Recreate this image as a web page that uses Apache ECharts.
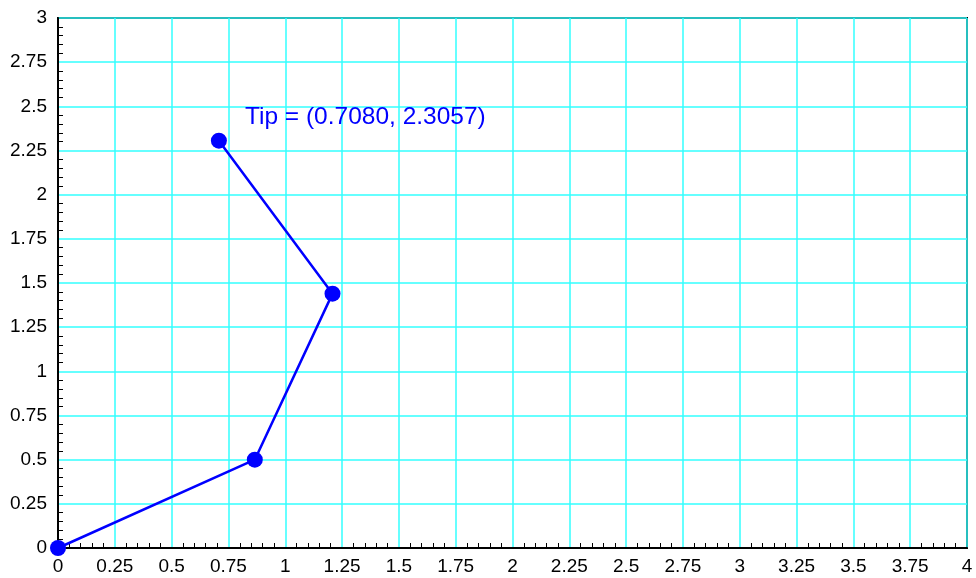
<!DOCTYPE html>
<html>
<head>
<meta charset="utf-8">
<script src="https://cdn.jsdelivr.net/npm/echarts@6/dist/echarts.min.js"></script>
<style>
  html, body { margin: 0; padding: 0; background: #fff; }
  #chart { width: 976px; height: 578px; }
</style>
</head>
<body>
<div id="chart"></div>
<script>
// Joint positions of a three-link planar arm
const jointX = [0, 0.8660, 1.2080, 0.7080];
const jointY = [0, 0.5000, 1.4397, 2.3057];
const tipLabel = 'Tip = (0.7080, 2.3057)';

const xMin = 0, xMax = 4, yMin = 0, yMax = 3, step = 0.25;
const blue = '#0000ff';
const cyan = '#33ffff';
const fontFamily = '"Liberation Sans", Arial, Helvetica, sans-serif';

const points = jointX.map((x, i) => {
  const p = { value: [x, jointY[i]] };
  if (i === jointX.length - 1) {
    p.label = {
      show: true,
      formatter: tipLabel,
      position: 'right',
      distance: 0,
      offset: [18, -23],
      color: blue,
      fontSize: 24.5,
      fontFamily: fontFamily
    };
  }
  return p;
});

function axisCommon(min, max, margin) {
  return {
    type: 'value',
    min: min,
    max: max,
    interval: step,
    axisLine: { show: true, onZero: false, lineStyle: { color: '#000', width: 2 } },
    axisTick: { show: false, inside: true },
    minorTick: { show: true, splitNumber: 5, length: 5, lineStyle: { color: '#000', width: 1 } },
    splitLine: { show: true, lineStyle: { color: cyan, width: 1.5 } },
    axisLabel: { color: '#000', fontSize: 19, fontFamily: fontFamily, margin: margin }
  };
}

const xAxis = axisCommon(xMin, xMax, 9);
const yAxis = axisCommon(yMin, yMax, 11);

const chart = echarts.init(document.getElementById('chart'));
chart.setOption({
  animation: false,
  backgroundColor: '#fff',
  grid: {
    left: 58, right: 9, top: 18, bottom: 30,
    show: true, borderColor: '#000', borderWidth: 2, backgroundColor: 'transparent'
  },
  xAxis: xAxis,
  yAxis: yAxis,
  series: [{
    type: 'line',
    data: points,
    clip: false,
    symbol: 'circle',
    symbolSize: 16,
    lineStyle: { color: blue, width: 2.5 },
    itemStyle: { color: blue },
    z: 5
  }]
});
</script>
</body>
</html>
